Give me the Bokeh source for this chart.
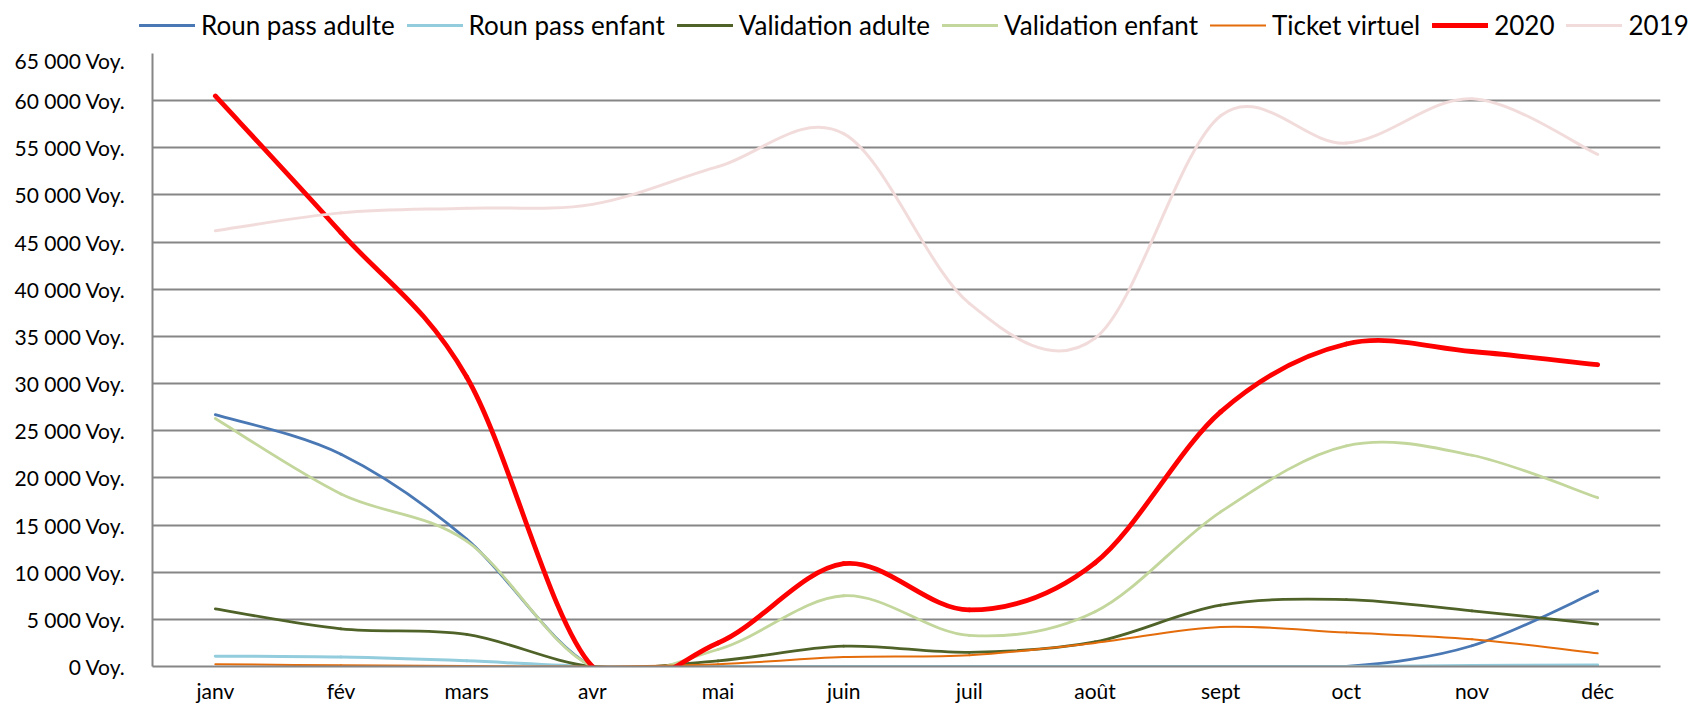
from bokeh.plotting import figure
from bokeh.models import Range1d, FixedTicker, Legend, LegendItem, ColumnDataSource
from bokeh.embed import file_html
from bokeh.resources import INLINE

# ---- data ----
months = ["janv", "fév", "mars", "avr", "mai", "juin", "juil", "août", "sept", "oct", "nov", "déc"]
roun_pass_adulte = [26700, 22500, 13500, 0, 0, 0, 0, 0, 0, 0, 2200, 8000]
roun_pass_enfant = [1100, 1000, 600, 0, 0, 0, 0, 0, 0, 0, 100, 150]
validation_adulte = [6100, 4000, 3400, 0, 600, 2150, 1500, 2600, 6500, 7100, 5900, 4500]
validation_enfant = [26300, 18300, 13300, 0, 1800, 7500, 3300, 5800, 16400, 23400, 22400, 17900]
ticket_virtuel = [250, 120, 60, 0, 250, 1000, 1200, 2500, 4200, 3600, 2900, 1400]
total_2020 = [60500, 46000, 30700, 0, 2500, 10900, 6000, 11000, 27000, 34200, 33400, 32000]
total_2019 = [46200, 48100, 48600, 49000, 53000, 56500, 38500, 34800, 58400, 55500, 60200, 54300]
y_ticks = list(range(0, 65001, 5000))

series = [
    ("Roun pass adulte", roun_pass_adulte, "#4A78B4", 2.8),
    ("Roun pass enfant", roun_pass_enfant, "#93CDDD", 3.0),
    ("Validation adulte", validation_adulte, "#4F6228", 2.8),
    ("Validation enfant", validation_enfant, "#C3D69B", 2.8),
    ("Ticket virtuel", ticket_virtuel, "#E46C0A", 2.0),
    ("2020", total_2020, "#FF0000", 4.8),
    ("2019", total_2019, "#F2DCDB", 3.0),
]

FONT = "Lato"
GRID = "#868686"
W = 1708
LEG_H = 47


def smooth_segments(vals):
    """Bezier control points of a smoothed (Catmull-Rom style) line through the values."""
    n = len(vals)
    xs = list(range(n))
    d = dict(x0=[], y0=[], x1=[], y1=[], cx0=[], cy0=[], cx1=[], cy1=[])
    for i in range(n - 1):
        im1 = max(i - 1, 0)
        ip2 = min(i + 2, n - 1)
        d["x0"].append(xs[i]); d["y0"].append(vals[i])
        d["x1"].append(xs[i + 1]); d["y1"].append(vals[i + 1])
        d["cx0"].append(xs[i] + (xs[i + 1] - xs[im1]) / 6.0)
        d["cy0"].append(vals[i] + (vals[i + 1] - vals[im1]) / 6.0)
        d["cx1"].append(xs[i + 1] - (xs[ip2] - xs[i]) / 6.0)
        d["cy1"].append(vals[i + 1] - (vals[ip2] - vals[i]) / 6.0)
    return ColumnDataSource(d)


# ---- main chart ----
p = figure(width=W, height=705 - LEG_H, output_backend="svg", toolbar_location=None,
           x_range=Range1d(-0.5, len(months) - 0.5), y_range=Range1d(0, 65000),
           min_border_left=152, min_border_right=48, min_border_top=6, min_border_bottom=39)
p.outline_line_color = None
p.background_fill_color = "white"
p.border_fill_color = "white"

p.xaxis.ticker = FixedTicker(ticks=list(range(len(months))))
p.xaxis.major_label_overrides = {i: m for i, m in enumerate(months)}
p.yaxis.ticker = FixedTicker(ticks=y_ticks)
p.yaxis.major_label_overrides = {
    v: (f"{v:,}".replace(",", " ") + " Voy.") for v in y_ticks
}
for ax in (p.xaxis[0], p.yaxis[0]):
    ax.major_tick_out = 0
    ax.major_tick_in = 0
    ax.minor_tick_out = 0
    ax.minor_tick_in = 0
    ax.axis_line_color = GRID
    ax.axis_line_width = 2
    ax.major_label_text_font = FONT
    ax.major_label_text_font_size = "21px"
    ax.major_label_text_color = "black"
p.yaxis.major_label_standoff = 27
p.xaxis.major_label_standoff = 11

p.xgrid.grid_line_color = None
p.ygrid.grid_line_color = GRID
p.ygrid.grid_line_width = 2

# ---- legend strip (own small figure, frame spans the whole width) ----
lg = figure(width=W, height=LEG_H, output_backend="svg", toolbar_location=None,
            x_range=Range1d(0, 1), y_range=Range1d(0, 1),
            x_axis_location=None, y_axis_location=None,
            min_border_left=0, min_border_right=0, min_border_top=0, min_border_bottom=0)
lg.grid.visible = False
lg.outline_line_color = None
lg.background_fill_color = "white"
lg.border_fill_color = "white"

nan = float("nan")
items = []
for name, vals, color, lw in series:
    src = smooth_segments(vals)
    p.bezier(x0="x0", y0="y0", x1="x1", y1="y1", cx0="cx0", cy0="cy0", cx1="cx1", cy1="cy1",
             source=src, line_color=color, line_width=lw, line_cap="round")
    key = lg.line(x=[nan, nan], y=[nan, nan], line_color=color, line_width=lw, line_cap="round")
    items.append(LegendItem(label=name, renderers=[key]))

legend = Legend(items=items, orientation="horizontal", location=(139, 6),
                label_text_font=FONT, label_text_font_size="26px", label_text_color="black",
                glyph_width=56, glyph_height=20, label_standoff=6, spacing=12,
                padding=0, margin=0, border_line_alpha=0, background_fill_alpha=0)
lg.add_layout(legend)

open("out.html", "w").write(file_html([lg, p], INLINE))
